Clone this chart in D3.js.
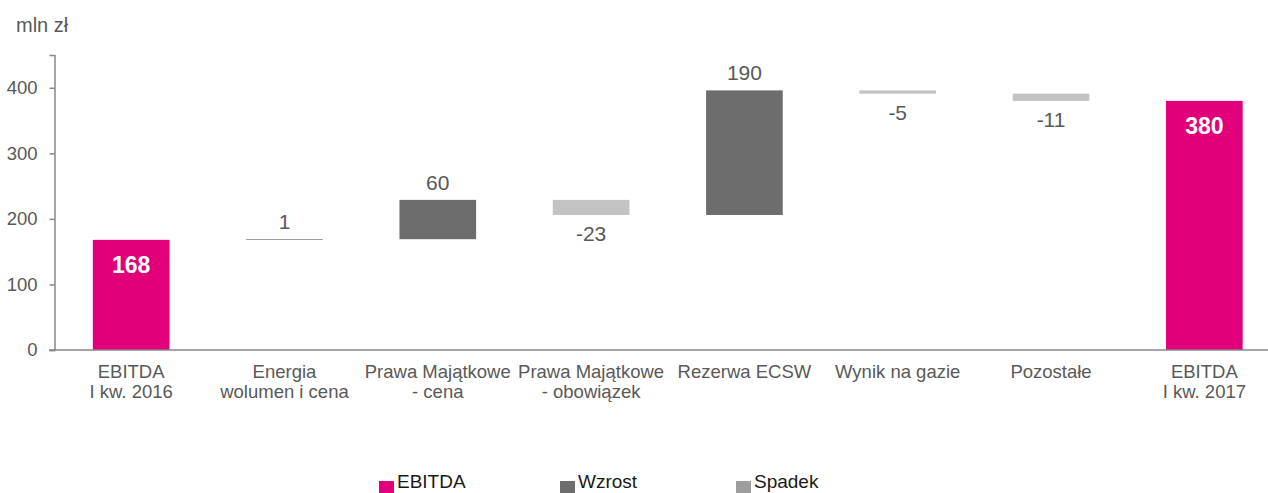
<!DOCTYPE html>
<html>
<head>
<meta charset="utf-8">
<script src="https://cdn.jsdelivr.net/npm/d3@7"></script>
<style>
  body { margin: 0; background: #fff; }
  svg { display: block; font-family: "Liberation Sans", Arial, sans-serif; }
</style>
</head>
<body>
<svg id="chart" width="1268" height="493"></svg>
<script>
// waterfall data
const categories = [
  ["EBITDA", "I kw. 2016"],
  ["Energia", "wolumen i cena"],
  ["Prawa Majątkowe", "- cena"],
  ["Prawa Majątkowe", "- obowiązek"],
  ["Rezerwa ECSW"],
  ["Wynik na gazie"],
  ["Pozostałe"],
  ["EBITDA", "I kw. 2017"]
];
const deltas = [168, 1, 60, -23, 190, -5, -11, 380];
const kinds = ["total", "up", "up", "down", "up", "down", "down", "total"];
const yTicks = [0, 100, 200, 300, 400];
const legendNames = ["EBITDA", "Wzrost", "Spadek"];

const colors = { total: "#e2007a", up: "#6d6d6d", down: "#c3c3c3" };
const legendColors = ["#e2007a", "#6d6d6d", "#9e9e9e"];

const svg = d3.select("#chart");

const x = d3.scaleBand()
  .domain(d3.range(categories.length))
  .range([54.5, 1281])
  .paddingInner(0.5)
  .paddingOuter(0.25);

const y = d3.scaleLinear().domain([0, 450]).range([350, 55]);

// running totals
let run = 0;
const bars = deltas.map((d, i) => {
  let lo, hi;
  if (kinds[i] === "total") { lo = 0; hi = d; run = d; }
  else { lo = run; hi = run + d; run = hi; }
  return { i, v: d, kind: kinds[i], lo: Math.min(lo, hi), hi: Math.max(lo, hi) };
});

// y axis
const yAxis = svg.append("g")
  .attr("transform", "translate(54.5,0)")
  .call(d3.axisLeft(y).tickValues(yTicks).tickSize(5).tickPadding(12).tickFormat(d3.format("d")));
yAxis.select(".domain").attr("stroke", "#888").attr("stroke-width", 1.5);
yAxis.selectAll(".tick line").attr("stroke", "#888").attr("stroke-width", 1.5);
yAxis.selectAll(".tick text").attr("fill", "#595959").style("font-size", "18.5px")
  .style("font-family", "Liberation Sans, Arial, sans-serif");

svg.append("text")
  .attr("x", 16).attr("y", 32)
  .attr("fill", "#595959")
  .style("font-size", "20px")
  .text("mln zł");

// bars
svg.append("g").selectAll("rect")
  .data(bars)
  .join("rect")
  .attr("x", d => x(d.i))
  .attr("width", x.bandwidth())
  .attr("y", d => y(d.hi))
  .attr("height", d => y(d.lo) - y(d.hi))
  .attr("fill", d => colors[d.kind]);

// x axis line
svg.append("line")
  .attr("x1", 49).attr("x2", 1268)
  .attr("y1", y(0)).attr("y2", y(0))
  .attr("stroke", "#888").attr("stroke-width", 1.5);

// value labels
const labels = svg.append("g").style("font-size", "21px");
bars.forEach(d => {
  const cx = x(d.i) + x.bandwidth() / 2;
  if (d.kind === "total") {
    labels.append("text")
      .attr("x", cx).attr("y", y(d.hi) + 33)
      .attr("text-anchor", "middle")
      .attr("fill", "#fff").style("font-weight", "bold").style("font-size", "23px")
      .text(d.v);
  } else if (d.v >= 0) {
    labels.append("text")
      .attr("x", cx).attr("y", y(d.hi) - 10)
      .attr("text-anchor", "middle").attr("fill", "#595959")
      .text(d.v);
  } else {
    labels.append("text")
      .attr("x", cx).attr("y", y(d.lo) + 26)
      .attr("text-anchor", "middle").attr("fill", "#595959")
      .text(d.v);
  }
});

// category labels
const cat = svg.append("g").style("font-size", "18.5px").attr("fill", "#595959");
categories.forEach((lines, i) => {
  const t = cat.append("text")
    .attr("x", x(i) + x.bandwidth() / 2)
    .attr("y", y(0) + 28)
    .attr("text-anchor", "middle");
  lines.forEach((s, k) => {
    t.append("tspan")
      .attr("x", x(i) + x.bandwidth() / 2)
      .attr("dy", k === 0 ? 0 : 20)
      .text(s);
  });
});

// legend
const legendX = [379, 560, 736];
const lg = svg.append("g");
legendNames.forEach((name, i) => {
  lg.append("rect")
    .attr("x", legendX[i]).attr("y", 481)
    .attr("width", 15).attr("height", 15)
    .attr("fill", legendColors[i]);
  lg.append("text")
    .attr("x", legendX[i] + 18).attr("y", 488)
    .attr("fill", "#1a1a1a")
    .style("font-size", "19px")
    .text(name);
});
</script>
</body>
</html>
